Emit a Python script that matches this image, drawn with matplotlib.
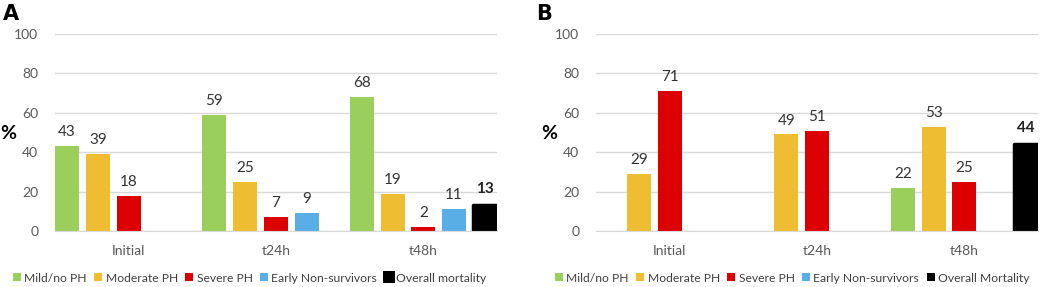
import matplotlib.pyplot as plt
from matplotlib.lines import Line2D
import numpy as np

plt.rcParams['font.family'] = ['Lato', 'DejaVu Sans']

categories = ['Initial', 't24h', 't48h']
series_a = ['Mild/no PH', 'Moderate PH', 'Severe PH', 'Early Non-survivors', 'Overall mortality']
series_b = ['Mild/no PH', 'Moderate PH', 'Severe PH', 'Early Non-survivors', 'Overall Mortality']
colors = ['#9bcf5b', '#eebd31', '#dc0000', '#5aaee6', '#000000']

# values per series, per category (nan = no bar)
nan = np.nan
values_a = [
    [43, 59, 68],
    [39, 25, 19],
    [18, 7, 2],
    [nan, 9, 11],
    [nan, nan, 13],
]
values_b = [
    [nan, nan, 22],
    [29, 49, 53],
    [71, 51, 25],
    [nan, nan, nan],
    [nan, nan, 44],
]

W, H = 1040, 287
fig = plt.figure(figsize=(W / 100, H / 100), dpi=100)

slot = 0.209
bw = 0.163


def draw_panel(left, values, names, letter, letter_x, pct_x, leg_x):
    ax = fig.add_axes([left / W, (H - 231) / H, 442 / W, 197 / H])
    x = np.arange(len(categories))
    for i, vals in enumerate(values):
        pos = x + (i - 2) * slot
        vals = np.array(vals, dtype=float)
        ok = ~np.isnan(vals)
        black = colors[i] == '#000000'
        ax.bar(pos[ok], vals[ok], width=bw, color=colors[i],
               edgecolor=colors[i], linewidth=2.5 if black else 0,
               joinstyle='round', zorder=3)
        for p, v in zip(pos[ok], vals[ok]):
            ax.annotate('%d' % v, (p, v), xytext=(0, 5 if not black else 7),
                        textcoords='offset points', ha='center', va='bottom',
                        fontsize=11, color='#333333' if not black else '#222222',
                        fontweight='bold' if black else 'normal')
    ax.set_xlim(-0.5, 2.5)
    ax.set_ylim(0, 100)
    ax.set_yticks(range(0, 101, 20))
    ax.set_xticks(x)
    ax.set_xticklabels(categories)
    ax.tick_params(axis='both', length=0, labelsize=10, colors='#595959')
    ax.tick_params(axis='y', pad=12)
    ax.tick_params(axis='x', pad=10)
    ax.grid(axis='y', color='#d9d9d9', linewidth=1, zorder=0)
    for s in ['top', 'right', 'left']:
        ax.spines[s].set_visible(False)
    ax.spines['bottom'].set_color('#d9d9d9')
    ax.spines['bottom'].set_zorder(4)

    fig.text(pct_x / W, 1 - 134 / H, '%', fontsize=14, fontweight='bold',
             ha='center', va='center')
    fig.text(letter_x / W, 1 - 14 / H, letter, fontsize=15, fontweight='bold',
             ha='center', va='center', family='DejaVu Sans')

    handles = []
    for i, n in enumerate(names):
        big = colors[i] == '#000000' and letter == 'A'
        handles.append(Line2D([], [], marker='s', linestyle='', color=colors[i],
                              markersize=8.5 if big else 5.5,
                              markeredgewidth=0))
    leg = fig.legend(handles, names, loc='center left',
                     bbox_to_anchor=(leg_x / W, 1 - 278 / H),
                     ncol=5, frameon=False, fontsize=8.7, handlelength=0.7,
                     handletextpad=0.25, columnspacing=0.6, borderaxespad=0,
                     borderpad=0)
    for t in leg.get_texts():
        t.set_color('#404040')
    return ax


draw_panel(55, values_a, series_a, 'A', 11, 8, 13)
draw_panel(596, values_b, series_b, 'B', 544, 549, 555)

fig.savefig('out.png', dpi=100)
